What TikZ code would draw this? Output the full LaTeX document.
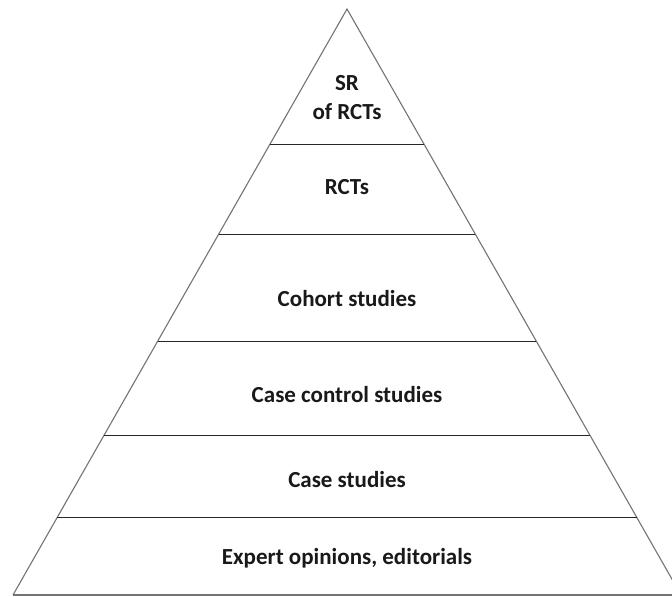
\documentclass[tikz,border=0pt]{standalone}
\usepackage{fontspec}
\setmainfont{Carlito}
\usetikzlibrary{calc}
\begin{document}
\begin{tikzpicture}[x=1pt,y=1pt,
  side/.style={draw=black!55,line width=1.1pt},
  tier/.style={draw=black!85,line width=1pt},
  label/.style={font=\fontsize{23}{26}\selectfont\bfseries,align=center,text=black!90,inner sep=0pt}]
\useasboundingbox (0,0) rectangle (672,597);
\clip (0,0) rectangle (672,597);
% pyramid outline
\coordinate (apex) at (347,588);
\coordinate (bl) at (13,2);
\coordinate (br) at (681,2);
\draw[side,line join=miter] (bl) -- (apex) -- (br);
\draw[draw=black!55,line width=2pt] (bl) -- (br);
% tier boundaries, fractions of the height from the apex
\foreach \t/\n in {0.2304/a,0.3840/b,0.5666/c,0.7270/d,0.8669/e}{
  \coordinate (l\n) at ($(apex)!\t!(bl)$);
  \coordinate (r\n) at ($(apex)!\t!(br)$);
  \draw[tier] (l\n) -- (r\n);
}
% tier labels
\node[label] (sr) at (347,499) {SR\\[3pt]of RCTs};
\node[label] (rct) at (347,410) {RCTs};
\node[label] (coh) at (347,298) {Cohort studies};
\node[label] (cc) at (347,202) {Case control studies};
\node[label] (cs) at (347,117) {Case studies};
\node[label] (eo) at (347,39) {Expert opinions, editorials};
\end{tikzpicture}
\end{document}
